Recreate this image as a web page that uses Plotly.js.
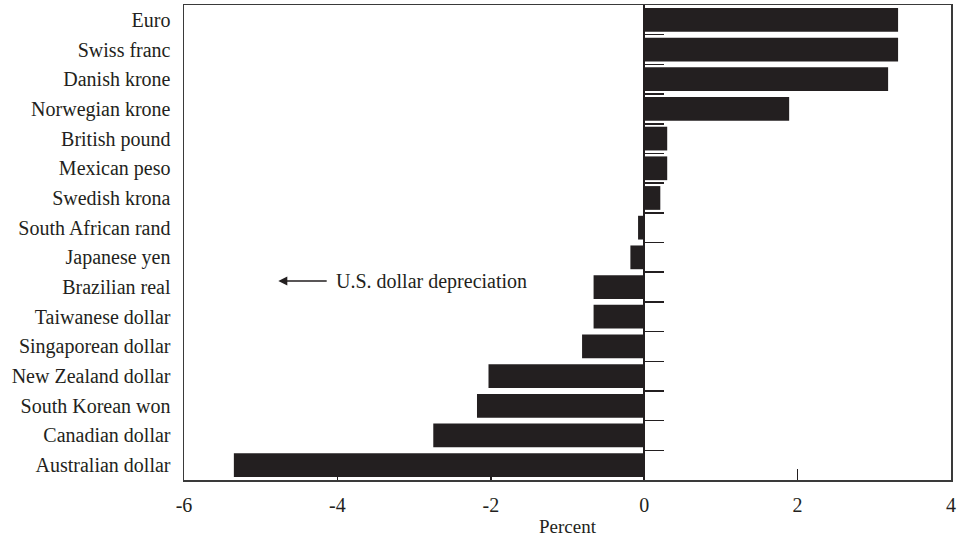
<!DOCTYPE html>
<html>
<head>
<meta charset="utf-8">
<script src="https://cdn.plot.ly/plotly-3.0.1.min.js"></script>
<style>html,body{margin:0;padding:0;background:#fff;}#chart{width:959px;height:537px;}</style>
</head>
<body>
<div id="chart"></div>
<script>
// Categories listed top to bottom
const currencies = ["Euro","Swiss franc","Danish krone","Norwegian krone","British pound","Mexican peso","Swedish krona","South African rand","Japanese yen","Brazilian real","Taiwanese dollar","Singaporean dollar","New Zealand dollar","South Korean won","Canadian dollar","Australian dollar"];
const changePct = [3.31,3.31,3.18,1.89,0.30,0.30,0.21,-0.08,-0.18,-0.66,-0.66,-0.81,-2.03,-2.18,-2.75,-5.35];
const xTickVals = [-6,-4,-2,0,2,4];
const xTickText = ["-6","-4","-2","0","2","4"];
const xTitle = "Percent";
const noteText = "U.S. dollar depreciation";

const FONT = "Liberation Serif, Times New Roman, serif";
const INK = "#231f20";

// category boundary positions for the short ticks along the zero line
const boundaries = currencies.slice(1).map((_, i) => i + 0.5);

const trace = {
  type: "bar",
  orientation: "h",
  x: changePct,
  y: currencies,
  marker: {color: INK, line: {width: 0}},
  hoverinfo: "x+y"
};
// invisible trace for the secondary axis carrying the boundary ticks
const tickTrace = {
  type: "scatter", mode: "markers",
  x: [0], y: [0], yaxis: "y2",
  marker: {opacity: 0}, hoverinfo: "skip", showlegend: false
};

const layout = {
  width: 959, height: 537,
  margin: {l: 184, r: 8, t: 5, b: 57},
  paper_bgcolor: "#fff", plot_bgcolor: "#fff",
  showlegend: false,
  bargap: 0.2,
  font: {family: FONT, color: INK, size: 20},
  xaxis: {
    range: [-6, 4],
    tickvals: xTickVals, ticktext: xTickText,
    ticks: "inside", ticklen: 11, tickwidth: 1.5, tickcolor: INK,
    showgrid: false,
    zeroline: true, zerolinecolor: INK, zerolinewidth: 1.5,
    showline: true, mirror: true, linecolor: "#3a3a3a", linewidth: 1.5,
    tickfont: {size: 20}, ticklabelstandoff: 6,
    title: {text: xTitle, font: {size: 19}, standoff: 7}
  },
  yaxis: {
    type: "category",
    categoryorder: "array", categoryarray: currencies,
    range: [15.5, -0.5],
    showgrid: false, zeroline: false,
    showline: true, mirror: true, linecolor: "#3a3a3a", linewidth: 1.5,
    ticks: "", ticklabelstandoff: 8,
    tickfont: {size: 20}
  },
  yaxis2: {
    overlaying: "y", anchor: "free", position: 0.6, side: "right",
    range: [15.5, -0.5],
    tickvals: boundaries,
    ticks: "outside", ticklen: 19, tickwidth: 1.5, tickcolor: INK,
    showticklabels: false, showgrid: false, zeroline: false, showline: false
  },
  annotations: [
    {x: -4.77, y: 8.8, xref: "x", yref: "y", ax: -4.12, ay: 8.8, axref: "x", ayref: "y",
     text: "", showarrow: true, arrowhead: 2, arrowsize: 1.2, arrowwidth: 1.5, arrowcolor: INK},
    {x: -4.05, y: 8.8, xref: "x", yref: "y", xanchor: "left", yanchor: "middle",
     text: noteText, showarrow: false, font: {size: 20, color: INK}}
  ]
};

Plotly.newPlot("chart", [trace, tickTrace], layout, {displayModeBar: false, staticPlot: true});
</script>
</body>
</html>
